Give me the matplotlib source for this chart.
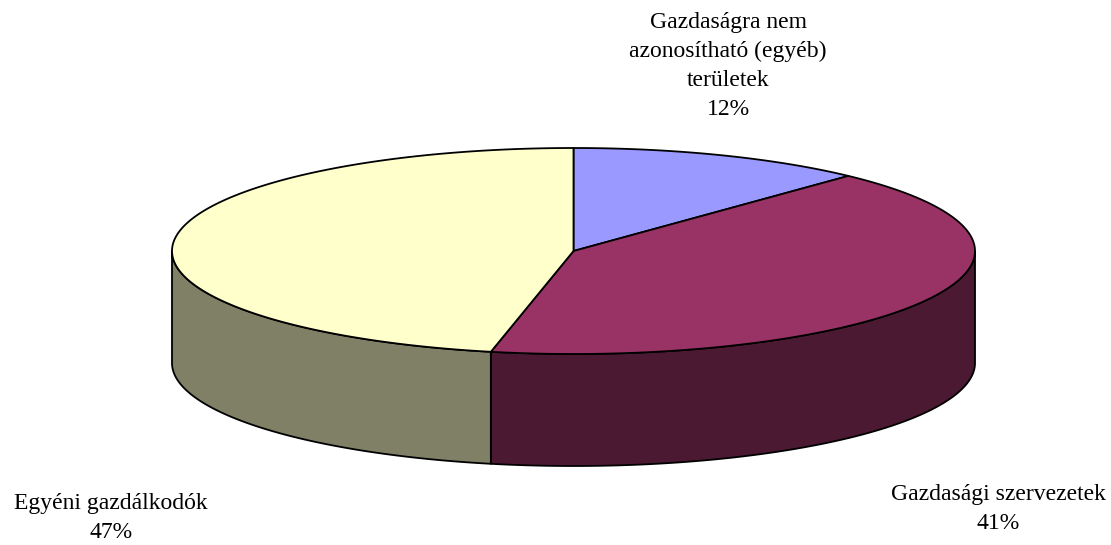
import numpy as np
import matplotlib
matplotlib.use('Agg')
import matplotlib.pyplot as plt
from matplotlib.patches import Polygon

# ---- data ----
categories = ['Gazdaságra nem\nazonosítható (egyéb)\nterületek',
              'Gazdasági szervezetek',
              'Egyéni gazdálkodók']
values = [12.0, 41.3, 46.7]
top_colors = ['#9999FF', '#993366', '#FFFFCC']
side_colors = ['#4D4D80', '#4C1933', '#808066']

# ---- layout (pixels) ----
W, H = 1111, 545
cx, cy, rx, ry, depth = 573.5, 251.0, 401.5, 103.0, 112.0
label_pos = [(728, 66), (998, 509), (111, 518)]

fig = plt.figure(figsize=(W / 100, H / 100), dpi=100)
ax = fig.add_axes([0, 0, 1, 1])
ax.set_xlim(0, W)
ax.set_ylim(H, 0)
ax.axis('off')


def arc(a, b, dy=0.0, n=200):
    t = np.radians(np.linspace(a, b, n))
    return np.column_stack([cx + rx * np.sin(t), cy - ry * np.cos(t) + dy])


total = sum(values)
bounds = np.concatenate([[0], np.cumsum(values) / total * 360.0])
lw = 1.3

# front walls (visible part: angles 90..270 measured clockwise from top)
for i in range(len(values)):
    a, b = max(bounds[i], 90.0), min(bounds[i + 1], 270.0)
    if b <= a:
        continue
    top = arc(a, b)
    bot = arc(b, a, depth)
    ax.add_patch(Polygon(np.vstack([top, bot]), closed=True,
                         facecolor=side_colors[i], edgecolor='black',
                         linewidth=lw, joinstyle='round'))

# top wedges
for i in range(len(values)):
    pts = np.vstack([[[cx, cy]], arc(bounds[i], bounds[i + 1])])
    ax.add_patch(Polygon(pts, closed=True, facecolor=top_colors[i],
                         edgecolor='black', linewidth=lw, joinstyle='round'))

# labels
for i, (lab, (x, y)) in enumerate(zip(categories, label_pos)):
    pct = round(values[i] / total * 100)
    ax.text(x, y, f'{lab}\n{pct}%', ha='center', va='center',
            fontsize=17, family='Liberation Serif', linespacing=1.5,
            color='black')

fig.savefig('out.png', dpi=100, facecolor='white')
